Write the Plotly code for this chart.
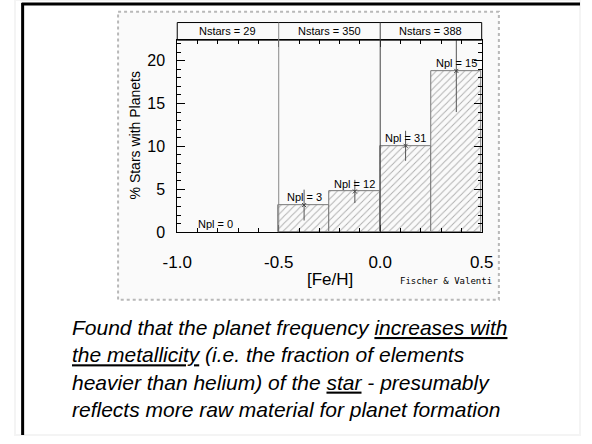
import plotly.graph_objects as go

# ---- data ----
bin_centers = [-0.375, -0.125, 0.125, 0.375]
bin_width = 0.25
pct_planets = [3.16, 4.75, 10.07, 18.8]
pct_err = [1.8, 1.35, 1.75, 4.8]
npl_labels = ["Npl = 3", "Npl = 12", "Npl = 31", "Npl = 15"]
empty_bin_x = -0.81
empty_bin_label = "Npl = 0"
nstars_centers = [-0.75, -0.25, 0.25]
nstars_labels = ["Nstars = 29", "Nstars = 350", "Nstars = 388"]
x_tickvals = [-1.0, -0.5, 0.0, 0.5]
x_ticktext = ["-1.0", "-0.5", "0.0", "0.5"]
y_tickvals = [0, 5, 10, 15, 20]
dividers = [-0.5, 0.0]

W, H = 592, 444
def px(x):
    return min(max(x / W, 0), 1)
def py(y):
    return min(max(1 - y / H, 0), 1)

PL, PR, PT, PB = 170, 489, 41, 237
BAND_T = 23

FONT = "Liberation Sans, Arial, Helvetica, sans-serif"

fig = go.Figure()

fig.add_trace(go.Bar(
    x=bin_centers, y=pct_planets, width=bin_width,
    marker=dict(color="#fafafa",
                line=dict(color="#777777", width=1),
                pattern=dict(shape="/", fgcolor="#606060", bgcolor="#fafafa",
                             size=5, solidity=0.18)),
    showlegend=False, hoverinfo="skip"))

fig.add_trace(go.Scatter(
    x=bin_centers, y=pct_planets, mode="markers",
    marker=dict(symbol="x-thin", size=4, color="#444444", line=dict(width=1, color="#444444")),
    error_y=dict(type="data", array=pct_err, visible=True, color="#555555",
                 thickness=1, width=0),
    showlegend=False, hoverinfo="skip", cliponaxis=True))

annotations = []
for xc, yv, lab in zip(bin_centers, pct_planets, npl_labels):
    annotations.append(dict(x=xc, y=yv + 0.9, xref="x", yref="y", text=lab,
                            showarrow=False, font=dict(family=FONT, size=11, color="black"),
                            xanchor="center", yanchor="middle"))
annotations.append(dict(x=empty_bin_x, y=0.9, xref="x", yref="y", text=empty_bin_label,
                        showarrow=False, font=dict(family=FONT, size=11, color="black"),
                        xanchor="center", yanchor="middle"))
for xc, lab in zip(nstars_centers, nstars_labels):
    annotations.append(dict(x=xc, y=py((BAND_T + PT) / 2), xref="x", yref="paper", text=lab,
                            showarrow=False, font=dict(family=FONT, size=11, color="black"),
                            xanchor="center", yanchor="middle"))

annotations.append(dict(x=px(126), y=py(138), xref="paper", yref="paper",
                        text="% Stars with Planets", textangle=-90, showarrow=False,
                        font=dict(family=FONT, size=14, color="black"),
                        xanchor="center", yanchor="middle"))
annotations.append(dict(x=px(330), y=py(285), xref="paper", yref="paper",
                        text="[Fe/H]", showarrow=False,
                        font=dict(family=FONT, size=17, color="black"),
                        xanchor="center", yanchor="middle"))
annotations.append(dict(x=px(452), y=py(287), xref="paper", yref="paper",
                        text="Fischer &amp; Valenti", showarrow=False,
                        font=dict(family="DejaVu Sans Mono, monospace", size=9, color="black"),
                        xanchor="center", yanchor="middle"))

U = "<span style='text-decoration:underline'>%s</span>"
caption = ("<i>Found that the planet frequency " + U % "increases with" + "<br>" +
           U % "the metallicity" + " (i.e. the fraction of elements<br>" +
           "heavier than helium) of the " + U % "star" + " - presumably<br>" +
           "reflects more raw material for planet formation</i>")
annotations.append(dict(x=px(58), y=py(376), xref="paper", yref="paper",
                        text=caption, showarrow=False, align="left",
                        font=dict(family=FONT, size=21, color="black"),
                        xanchor="left", yanchor="middle"))

shapes = [
    # faint full-page frame
    dict(type="rect", xref="paper", yref="paper", x0=0, x1=1, y0=0, y1=1,
         line=dict(color="#f4f4f4", width=2), fillcolor="rgba(0,0,0,0)", layer="below"),
    # slide border (left & top)
    dict(type="line", xref="paper", yref="paper", x0=px(8), x1=px(8), y0=py(3), y1=py(444),
         line=dict(color="black", width=3)),
    dict(type="line", xref="paper", yref="paper", x0=px(7), x1=px(592), y0=py(4), y1=py(4),
         line=dict(color="black", width=3)),
    # dotted figure box
    dict(type="rect", xref="paper", yref="paper", x0=px(108), x1=px(507), y0=py(12), y1=py(306),
         line=dict(color="#b8b8b8", width=2, dash="dot"), fillcolor="#fafafa", layer="below"),
    # Nstars band
    dict(type="rect", xref="paper", yref="paper", x0=px(PL), x1=px(PR), y0=py(BAND_T), y1=py(PT),
         line=dict(color="black", width=1), fillcolor="rgba(0,0,0,0)"),
]
for i, d in enumerate(dividers):
    shapes.append(dict(type="line", xref="x", yref="paper", x0=d, x1=d, y0=py(PB), y1=py(BAND_T),
                       line=dict(color="#888888" if i == 0 else "#444444", width=1)))

fig.update_layout(
    width=W, height=H, margin=dict(l=0, r=0, t=0, b=0),
    paper_bgcolor="white", plot_bgcolor="rgba(0,0,0,0)",
    bargap=0, annotations=annotations, shapes=shapes,
    font=dict(family=FONT, color="black"),
    xaxis=dict(domain=[px(PL), px(PR)], range=[-1.0, 0.5], tickmode="array",
               tickvals=x_tickvals, ticktext=x_ticktext, ticks="inside", ticklen=7,
               tickcolor="black", showline=True, linecolor="black", linewidth=1,
               mirror="ticks", showgrid=False, zeroline=False,
               tickfont=dict(family=FONT, size=17, color="black"), ticklabelstandoff=14,
               minor=dict(tickmode="linear", tick0=-1.0, dtick=0.1, ticks="inside",
                          ticklen=4, tickcolor="black", showgrid=False)),
    yaxis=dict(domain=[py(PB), py(PT)], range=[0, 22.38], tickmode="array",
               tickvals=y_tickvals, ticks="inside", ticklen=8, tickcolor="black",
               showline=True, linecolor="black", linewidth=1, mirror="ticks",
               showgrid=False, zeroline=False,
               tickfont=dict(family=FONT, size=16, color="black"), ticklabelstandoff=8,
               minor=dict(tickmode="linear", tick0=0, dtick=1, ticks="inside",
                          ticklen=4, tickcolor="black", showgrid=False)),
)

fig.write_html("out.html", config={"displayModeBar": False},
               post_script="document.body.style.margin='0';document.body.style.overflow='hidden';")
